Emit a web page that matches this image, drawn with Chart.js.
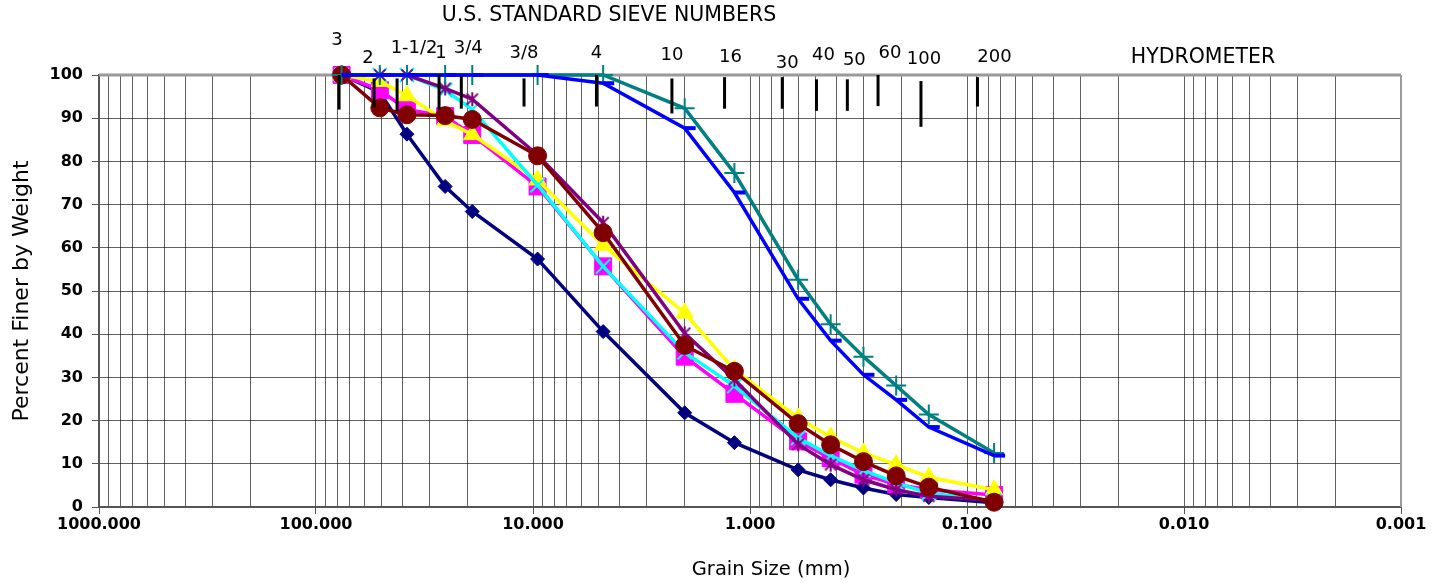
<!DOCTYPE html>
<html>
<head>
<meta charset="utf-8">
<title>Grain Size Distribution</title>
<script src="https://cdn.jsdelivr.net/npm/chart.js@4.4.1/dist/chart.umd.min.js"></script>
<style>
    html, body { margin: 0; padding: 0; background: #fff; }
    #wrap { width: 1431px; height: 583px; position: relative; }
</style>
</head>
<body>
<div id="wrap"><canvas id="gradationChart"></canvas></div>
<script>
// Sieve openings used for each sample (mm)
const sieveSizesMm = [76.2, 50.8, 38.1, 25.4, 19.05, 9.525, 4.75, 2.0, 1.18, 0.6, 0.425, 0.3, 0.212, 0.15, 0.075];

// Percent passing per sample
const sample1 = [100, 96, 86.3, 74.2, 68.4, 57.4, 40.6, 21.8, 14.9, 8.6, 6.3, 4.4, 2.9, 2.2, 1.0];
const sample2 = [100, 96.5, 92, 90.5, 86.1, 74.2, 55.7, 34.8, 26.2, 15.2, 11.3, 7.5, 5.2, 4.0, 2.8];
const sample3 = [100, 98.5, 95.2, 89.4, 86.2, 75.7, 60.6, 44.9, 31.8, 20.6, 16.2, 12.5, 9.8, 6.9, 4.0];
const sample4 = [100, 100, 100, 96.5, 92, 74.5, 55.7, 35.8, 28, 16, 11.9, 8.5, 5.6, 3.2, 1.5];
const sample5 = [100, 100, 100, 96.9, 94.4, 81.5, 65.8, 40.2, 29.5, 14.5, 9.8, 6.3, 4.0, 2.5, 1.5];
const sample6 = [100, 92.4, 90.8, 90.6, 89.7, 81.3, 63.5, 37.4, 31.4, 19.3, 14.4, 10.5, 7.2, 4.6, 1.1];
const sample7 = [100, 100, 100, 100, 100, 100, 100, 92.3, 77.3, 52.6, 42.3, 34.8, 28.1, 21.4, 12.5];
const sample8 = [100, 100, 100, 100, 100, 100, 98.1, 87.7, 72.8, 48.2, 38.5, 30.6, 24.8, 18.5, 11.9];

// U.S. standard sieve marks along the top of the grid
const sieveLabels = ['3', '2', '1-1/2', '1', '3/4', '3/8', '4', '10', '16', '30', '40', '50', '60', '100', '200'];
const sieveMarkMm = [78.3, 54, 42.3, 27.1, 21.4, 11.0, 5.1, 2.29, 1.31, 0.71, 0.494, 0.356, 0.257, 0.163, 0.0895];
const sieveMarkTop = [100, 99.2, 99.2, 100, 99.8, 99.2, 100, 99.2, 99.5, 99.5, 99.0, 99.0, 100, 98.6, 99.5];
const sieveMarkBottom = [92.0, 92.5, 91.7, 92.0, 92.2, 92.7, 92.7, 91.1, 92.2, 92.2, 91.7, 91.7, 92.8, 88.0, 92.7];

const yTicks = [0, 10, 20, 30, 40, 50, 60, 70, 80, 90, 100];

// label placement around each sieve mark (px)
const sieveLabelDx = [-2, -6, 17, 2, 7, 0, 0, 0, 6, 5, 7, 7, 12, 3, 17];
const sieveLabelDy = [-35, -17, -27, -22, -27, -22, -22, -20, -18, -12, -20, -15, -22, -16, -18];

const FONT = '"DejaVu Sans", "Liberation Sans", Arial, sans-serif';

// Excel-style asterisk marker: an X with a vertical stroke
function makeStarMarker(color, size) {
    const c = document.createElement('canvas');
    c.width = size;
    c.height = size;
    const g = c.getContext('2d');
    const m = size / 2, r = size / 2 - 1;
    g.strokeStyle = color;
    g.lineWidth = 2;
    g.beginPath();
    g.moveTo(m - r * 0.8, m - r * 0.8); g.lineTo(m + r * 0.8, m + r * 0.8);
    g.moveTo(m + r * 0.8, m - r * 0.8); g.lineTo(m - r * 0.8, m + r * 0.8);
    g.moveTo(m, m - r); g.lineTo(m, m + r);
    g.stroke();
    return c;
}

function toPoints(values) {
    return values.map((v, i) => ({ x: sieveSizesMm[i], y: v }));
}

const seriesStyles = [
    { data: sample1, color: '#000080', pointStyle: 'rectRot', radius: 7, pbw: 1 },
    { data: sample2, color: '#FF00FF', pointStyle: 'rect', radius: 12, pbw: 1 },
    { data: sample3, color: '#FFFF00', pointStyle: 'triangle', radius: 10, pbw: 1 },
    { data: sample4, color: '#00FFFF', pointStyle: 'crossRot', radius: 10, pbw: 2 },
    { data: sample5, color: '#800080', pointStyle: makeStarMarker('#800080', 16), radius: 8, pbw: 2 },
    { data: sample6, color: '#800000', pointStyle: 'circle', radius: 9, pbw: 1 },
    { data: sample7, color: '#008080', pointStyle: 'cross', radius: 10, pbw: 2 },
    { data: sample8, color: '#0000FF', pointStyle: 'dash', radius: 11, pbw: 4 }
];

const datasets = seriesStyles.map((s, i) => ({
    label: 'Sample ' + (i + 1),
    data: toPoints(s.data),
    borderColor: s.color,
    backgroundColor: s.color,
    borderWidth: 3.5,
    pointStyle: s.pointStyle,
    pointRadius: s.radius,
    pointBorderWidth: s.pbw,
    pointBorderColor: s.color,
    pointBackgroundColor: s.color,
    tension: 0,
    clip: false,
    order: seriesStyles.length - i // later samples sit on top
}));

function isDecade(v) {
    const l = Math.log10(v);
    return Math.abs(l - Math.round(l)) < 1e-9;
}

// grid frame, sieve marks and the texts around the plot
const sievePlugin = {
    id: 'sieveMarks',
    beforeDatasetsDraw(chart) {
        const { ctx, chartArea: a } = chart;
        ctx.save();
        ctx.strokeStyle = '#9a9a9a';
        ctx.lineWidth = 3;
        ctx.beginPath();
        ctx.moveTo(a.left, a.top);
        ctx.lineTo(a.right, a.top);
        ctx.stroke();
        ctx.lineWidth = 2;
        ctx.beginPath();
        ctx.moveTo(a.right, a.top);
        ctx.lineTo(a.right, a.bottom);
        ctx.stroke();
        ctx.restore();
    },
    afterDatasetsDraw(chart) {
        const { ctx, chartArea: a, scales: { x, y } } = chart;
        ctx.save();
        ctx.strokeStyle = '#000';
        ctx.lineWidth = 3;
        sieveMarkMm.forEach((mm, i) => {
            const px = x.getPixelForValue(mm);
            ctx.beginPath();
            ctx.moveTo(px, y.getPixelForValue(sieveMarkTop[i]));
            ctx.lineTo(px, y.getPixelForValue(sieveMarkBottom[i]));
            ctx.stroke();
        });
        ctx.fillStyle = '#000';
        ctx.textAlign = 'center';
        ctx.textBaseline = 'middle';
        ctx.font = '18px ' + FONT;
        sieveMarkMm.forEach((mm, i) => {
            const px = x.getPixelForValue(mm);
            ctx.fillText(sieveLabels[i], px + sieveLabelDx[i], a.top + sieveLabelDy[i]);
        });
        ctx.font = '20.5px ' + FONT;
        ctx.fillText('U.S. STANDARD SIEVE NUMBERS', 609, 16);
        ctx.font = '20.5px ' + FONT;
        ctx.fillText('HYDROMETER', 1203, 58);
        ctx.font = '19.5px ' + FONT;
        ctx.fillText('Grain Size (mm)', 771, 570);
        ctx.restore();
    }
};

const ctx = document.getElementById('gradationChart').getContext('2d');
new Chart(ctx, {
    type: 'line',
    data: { datasets },
    plugins: [sievePlugin],
    options: {
        responsive: true,
        maintainAspectRatio: false,
        animation: false,
        layout: { padding: { top: 75, right: 30, left: 0, bottom: 0 } },
        plugins: {
            legend: { display: false },
            tooltip: { enabled: false }
        },
        scales: {
            x: {
                type: 'logarithmic',
                reverse: true,
                min: 0.001,
                max: 1000,
                afterBuildTicks(scale) {
                    const ticks = [];
                    for (let e = -3; e <= 2; e++) {
                        for (let s = 1; s <= 9; s++) {
                            ticks.push({ value: parseFloat((s * Math.pow(10, e)).toPrecision(3)) });
                        }
                    }
                    ticks.push({ value: 1000 });
                    scale.ticks = ticks;
                },
                afterFit(scale) { scale.height = 76; },
                ticks: {
                    autoSkip: false,
                    maxRotation: 0,
                    padding: 1,
                    color: '#000',
                    font: { family: FONT, size: 16, weight: 'bold' },
                    callback: (v) => isDecade(v) ? Number(v).toFixed(3) : ''
                },
                grid: {
                    color: 'rgba(0,0,0,0.62)',
                    lineWidth: 1,
                    tickLength: 7,
                    tickColor: (c) => (c.tick && isDecade(c.tick.value)) ? '#555' : 'rgba(0,0,0,0)'
                },
                border: { display: true, color: '#555', width: 2 }
            },
            y: {
                min: 0,
                max: 100,
                afterBuildTicks(scale) {
                    scale.ticks = yTicks.map(v => ({ value: v }));
                },
                afterFit(scale) { scale.width = 99; },
                ticks: {
                    padding: 9,
                    color: '#000',
                    font: { family: FONT, size: 16, weight: 'bold' }
                },
                grid: {
                    color: 'rgba(0,0,0,0.62)',
                    lineWidth: 1,
                    tickLength: 7,
                    tickColor: '#555'
                },
                border: { display: true, color: '#555', width: 2 },
                title: {
                    display: true,
                    text: 'Percent Finer by Weight',
                    color: '#000',
                    font: { family: FONT, size: 22, weight: 'normal' },
                    padding: { top: 9, bottom: 0 }
                }
            }
        }
    }
});
</script>
</body>
</html>
